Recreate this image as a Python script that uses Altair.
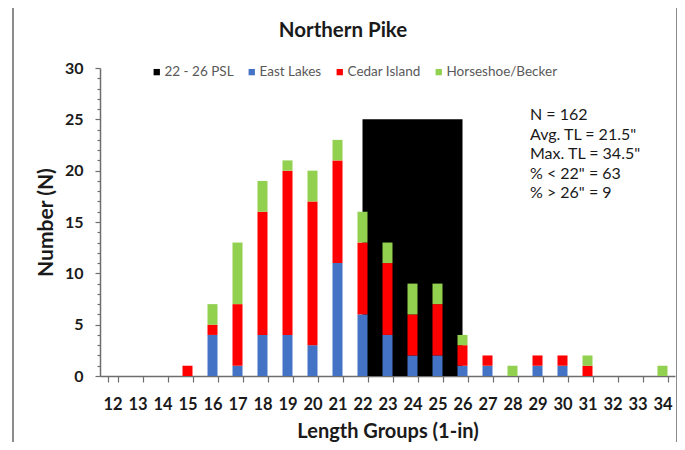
import altair as alt
import pandas as pd

# ---- data ----
lengths = list(range(12, 35))
east_lakes = [0, 0, 0, 0, 4, 1, 4, 4, 3, 11, 6, 4, 2, 2, 1, 1, 0, 1, 1, 0, 0, 0, 0]
cedar_island = [0, 0, 0, 1, 1, 6, 12, 16, 14, 10, 7, 7, 4, 5, 2, 1, 0, 1, 1, 1, 0, 0, 0]
horseshoe_becker = [0, 0, 0, 0, 2, 6, 3, 1, 3, 2, 3, 2, 3, 2, 1, 0, 1, 0, 0, 1, 0, 0, 1]
psl_lengths = [22, 23, 24, 25, 26]
psl_height = [25, 25, 25, 25, 25]
series_names = ["22 - 26 PSL", "East Lakes", "Cedar Island", "Horseshoe/Becker"]
series_colors = ["#000000", "#4472C4", "#FF0000", "#92D050"]
stats_lines = ["N = 162", 'Avg. TL = 21.5"', 'Max. TL = 34.5"', '% < 22" = 63', '% > 26" = 9']
title_text = "Northern Pike"
x_title = "Length Groups (1-in)"
y_title = "Number (N)"
y_ticks = list(range(0, 31))

rows = []
for order, (name, vals) in enumerate(zip(series_names[1:], [east_lakes, cedar_island, horseshoe_becker])):
    for L, v in zip(lengths, vals):
        if v > 0:
            rows.append({"len": L, "count": v, "series": name, "ord": order})
bars_df = pd.DataFrame(rows)
psl_df = pd.DataFrame({"len": psl_lengths, "count": psl_height, "series": series_names[0]})
one = pd.DataFrame({"a": [0]})

FONT = "Lato"
AXIS_COL = "#6e6e6e"
TXT = "#1a1a1a"

x_enc = alt.X(
    "len:O",
    scale=alt.Scale(domain=lengths, paddingInner=0.6, paddingOuter=0.3),
    axis=alt.Axis(
        title=x_title, labelAngle=0, tickBand="extent", tickSize=6, tickWidth=1.2,
        tickColor=AXIS_COL, domainColor=AXIS_COL, domainWidth=1.5,
        labelFont=FONT, labelFontSize=16.5, labelFontWeight="bold", labelColor=TXT,
        labelPadding=14, titleFont=FONT, titleFontSize=20, titleFontWeight="bold",
        titleColor=TXT, titlePadding=9,
    ),
)
y_axis = alt.Axis(
    title=y_title, values=y_ticks, grid=False,
    labelExpr="datum.value % 5 === 0 ? datum.label : ''",
    tickSize={"condition": {"test": "datum.value % 5 === 0", "value": 5}, "value": 3},
    tickColor=AXIS_COL, tickWidth=1.2, domainColor=AXIS_COL, domainWidth=1.5,
    labelFont=FONT, labelFontSize=16, labelFontWeight="bold", labelColor=TXT,
    labelPadding=12, titleFont=FONT, titleFontSize=21, titleFontWeight="bold",
    titleColor=TXT, titlePadding=8,
)
y_scale = alt.Scale(domain=[0, 30], nice=False)
color_enc = alt.Color(
    "series:N",
    scale=alt.Scale(domain=series_names, range=series_colors),
    legend=alt.Legend(
        title=None, orient="none", legendX=50, legendY=-3, direction="horizontal",
        columns=4, symbolType="square", symbolSize=40, symbolStrokeWidth=0,
        labelFont=FONT, labelFontSize=13.5, labelColor="#595959",
        columnPadding=11, labelOffset=1, padding=0,
    ),
)

psl = alt.Chart(psl_df).mark_area(opacity=1).encode(
    x=x_enc,
    y=alt.Y("count:Q", scale=y_scale, axis=y_axis, title=y_title),
    color=color_enc,
)

bars = alt.Chart(bars_df).mark_bar().encode(
    x=x_enc,
    y=alt.Y("count:Q", stack="zero", scale=y_scale, axis=y_axis, title=y_title),
    color=color_enc,
    order=alt.Order("ord:Q", sort="ascending"),
)

stats = alt.Chart(one).mark_text(
    text=stats_lines, align="left", baseline="top", font=FONT, fontSize=16,
    lineHeight=19.5, color=TXT,
).encode(x=alt.value(430), y=alt.value(39))

title = alt.Chart(one).mark_text(
    text=title_text, align="center", baseline="middle", font=FONT, fontSize=20.5,
    fontWeight="bold", color=TXT,
).encode(x=alt.value(243), y=alt.value(-37))

frame = alt.Chart(one).mark_rect(
    fill="transparent", stroke="#8c8c8c", strokeWidth=2,
).encode(x=alt.value(-87), x2=alt.value(577), y=alt.value(-62), y2=alt.value(420))

chart = (
    alt.layer(frame, psl, bars, stats, title)
    .properties(
        width=575, height=308,
        autosize=alt.AutoSizeParams(type="none"),
        padding={"left": 92, "top": 60, "right": 2, "bottom": 66},
    )
    .configure(font=FONT)
    .configure_view(stroke="transparent")
)

chart.save("out.html", embed_options={"renderer": "svg", "actions": False})
